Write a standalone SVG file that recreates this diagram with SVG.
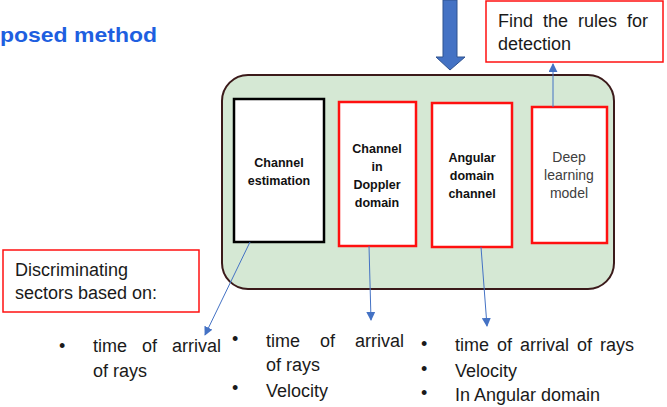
<svg xmlns="http://www.w3.org/2000/svg" width="667" height="407" viewBox="0 0 667 407">
<defs>
<marker id="ah" viewBox="0 0 10 10" refX="9" refY="5" markerWidth="9" markerHeight="9" markerUnits="userSpaceOnUse" orient="auto">
<path d="M0,0 L10,5 L0,10 z" fill="#4472c4"/>
</marker>
</defs>
<style>
.t{font-family:"Liberation Sans",Arial,sans-serif;font-size:18px;fill:#1a1a1a}
.b{font-family:"Liberation Sans",Arial,sans-serif;font-size:12.5px;font-weight:bold;fill:#111;text-anchor:middle}
.n{font-family:"Liberation Sans",Arial,sans-serif;font-size:14px;fill:#404040;text-anchor:middle}
.red{fill:#fff;stroke:#ff1010;stroke-width:2.5}
.conn{stroke:#4472c4;stroke-width:1;fill:none}
</style>
<rect width="667" height="407" fill="#fff"/>
<text x="0" y="42" font-family="'Liberation Sans',Arial,sans-serif" font-size="21" font-weight="bold" fill="#1e5fe0" textLength="157" lengthAdjust="spacingAndGlyphs">posed method</text>

<g id="input-arrow">
<path d="M443,0 L457,0 L457,57 L465,57 L450,70 L436,57 L443,57 z" fill="#4472c4" stroke="#2f528f" stroke-width="1"/>
</g>

<g id="container">
<rect x="222" y="75" width="392" height="214" rx="26" ry="26" fill="#d5e8d4" stroke="#3b1a1a" stroke-width="2"/>
</g>

<g id="channel-estimation">
<rect x="234" y="99" width="90" height="143" fill="#fff" stroke="#000" stroke-width="2.5"/>
<text class="b" x="279" y="167">Channel</text>
<text class="b" x="279" y="185">estimation</text>
</g>
<g id="doppler">
<rect class="red" x="339" y="102" width="77" height="144"/>
<text class="b" x="377" y="153">Channel</text>
<text class="b" x="377" y="171">in</text>
<text class="b" x="377" y="189">Doppler</text>
<text class="b" x="377" y="207">domain</text>
</g>
<g id="angular">
<rect class="red" x="432" y="103" width="80" height="144"/>
<text class="b" x="472" y="162">Angular</text>
<text class="b" x="472" y="180">domain</text>
<text class="b" x="472" y="198">channel</text>
</g>
<g id="deep-learning">
<rect class="red" x="532" y="107" width="75" height="136"/>
<text class="n" x="569" y="162">Deep</text>
<text class="n" x="569" y="180">learning</text>
<text class="n" x="569" y="198">model</text>
</g>

<g id="rules">
<rect x="486" y="1" width="177" height="61" fill="#fff" stroke="#ff1010" stroke-width="1.5"/>
<text class="t" x="498" y="27" word-spacing="5">Find the rules for</text>
<text class="t" x="498" y="50">detection</text>
</g>

<g id="discriminating">
<rect x="3" y="250" width="196" height="62" fill="#fff" stroke="#ff1010" stroke-width="1.5"/>
<text class="t" x="15" y="276">Discriminating</text>
<text class="t" x="15" y="299">sectors based on:</text>
</g>

<g id="connectors">
<line class="conn" x1="553" y1="107" x2="553" y2="64" marker-end="url(#ah)"/>
<line class="conn" x1="250" y1="242" x2="205" y2="335" marker-end="url(#ah)"/>
<line class="conn" x1="369" y1="246" x2="371" y2="320" marker-end="url(#ah)"/>
<line class="conn" x1="481" y1="247" x2="487" y2="326" marker-end="url(#ah)"/>
</g>

<g id="list1">
<text class="t" x="59" y="352">•</text>
<text class="t" x="93" y="352" word-spacing="10">time of arrival</text>
<text class="t" x="93" y="377">of rays</text>
</g>
<g id="list2">
<text class="t" x="232" y="345">•</text>
<text class="t" x="266" y="347" word-spacing="15">time of arrival</text>
<text class="t" x="266" y="371">of rays</text>
<text class="t" x="232" y="394">•</text>
<text class="t" x="266" y="397">Velocity</text>
</g>
<g id="list3">
<text class="t" x="421" y="350">•</text>
<text class="t" x="455" y="351" word-spacing="3">time of arrival of rays</text>
<text class="t" x="421" y="375">•</text>
<text class="t" x="455" y="377">Velocity</text>
<text class="t" x="421" y="399">•</text>
<text class="t" x="455" y="401">In Angular domain</text>
</g>
</svg>
